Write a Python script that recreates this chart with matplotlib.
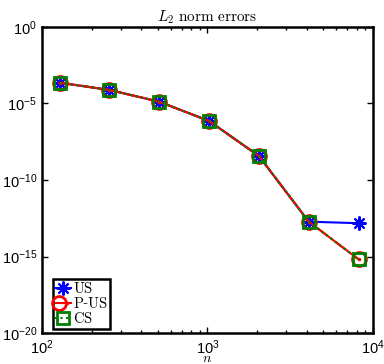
import matplotlib
matplotlib.use("Agg")
import matplotlib.pyplot as plt
from matplotlib.legend_handler import HandlerTuple
from matplotlib.ticker import LogLocator, NullLocator, FixedLocator

plt.rcParams['font.family'] = ['Liberation Sans', 'DejaVu Sans']
plt.rcParams['mathtext.fontset'] = 'custom'
plt.rcParams['mathtext.rm'] = 'Liberation Sans'
plt.rcParams['mathtext.it'] = 'Liberation Sans:italic'
plt.rcParams['mathtext.bf'] = 'Liberation Sans:bold'

n = [128, 256, 512, 1024, 2048, 4096, 8192]
err_us = [2.3e-4, 7.6e-5, 1.3e-5, 7.2e-7, 3.7e-9, 1.9e-13, 1.5e-13]
err_pus = [2.3e-4, 7.6e-5, 1.3e-5, 7.2e-7, 3.7e-9, 1.9e-13, 6.6e-16]
err_cs = [2.3e-4, 7.6e-5, 1.3e-5, 7.2e-7, 3.7e-9, 1.9e-13, 6.6e-16]

fig = plt.figure(figsize=(3.84, 3.64), dpi=100)
ax = fig.add_axes([0.109, 0.085, 0.862, 0.841])

l1, = ax.plot(n, err_us, '-', color='blue', lw=1.5, marker=(8, 2, 0), ms=10,
              mew=1.5, label='US')
l2, = ax.plot(n, err_pus, '-.', color='red', lw=1.5, marker='o', ms=10,
              mew=2, mfc='none', label='P-US')
l2d, = ax.plot(n, err_pus, 'none', color='red', marker='.', ms=3)
l3, = ax.plot(n, err_cs, ':', color='green', lw=1.5, marker='s', ms=8,
              mew=2, mfc='none', label='CS')

ax.set_xscale('log')
ax.set_yscale('log')
ax.set_xlim(1e2, 1e4)
ax.set_ylim(1e-20, 1e0)
ax.yaxis.set_major_locator(FixedLocator([1e-20, 1e-15, 1e-10, 1e-5, 1e0]))
ax.yaxis.set_minor_locator(NullLocator())
ax.xaxis.set_minor_locator(LogLocator(base=10, subs=range(2, 10), numticks=10))

ax.tick_params(which='both', direction='in', top=True, right=True, labelsize=10.5)
ax.tick_params(which='major', length=4, width=1)
ax.tick_params(which='minor', length=2, width=1)
for s in ax.spines.values():
    s.set_linewidth(1.8)

ax.set_title(r'$L_2\ \mathrm{norm\ errors}$', fontsize=11, math_fontfamily='cm', pad=4)
ax.set_xlabel(r'$n$', fontsize=10, math_fontfamily='cm')
ax.xaxis.set_label_coords(0.5, -0.057)

leg = ax.legend([l1, (l2, l2d), l3], ['US', 'P-US', 'CS'],
                handler_map={tuple: HandlerTuple(ndivide=None, pad=0)},
                loc='lower left', bbox_to_anchor=(0.02, 0.0), fontsize=10.5,
                fancybox=False, framealpha=1, edgecolor='black',
                handlelength=1.1, handletextpad=0.1, borderpad=0.15,
                labelspacing=0.0, borderaxespad=0.3)
leg.get_frame().set_linewidth(1.8)
for t in leg.get_texts():
    t.set_text(r'$\mathrm{' + t.get_text().replace('-', '}$-$\\mathrm{') + '}$')
    t.set_math_fontfamily('cm')
    t.set_fontfamily('DejaVu Serif')

fig.savefig('out.png', dpi=100)
